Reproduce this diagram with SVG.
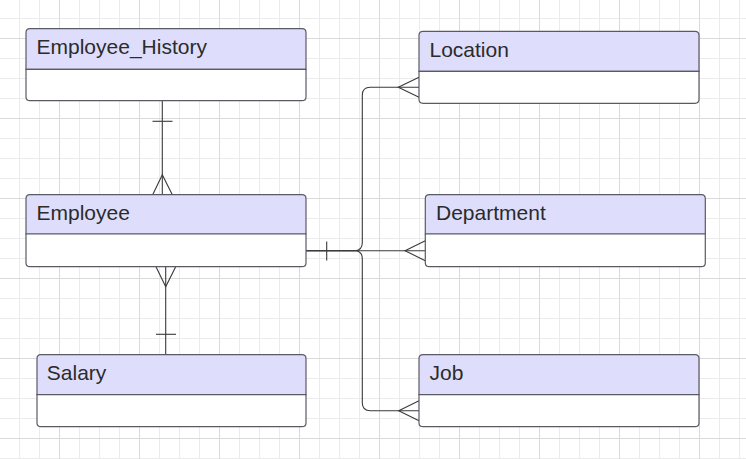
<svg xmlns="http://www.w3.org/2000/svg" width="746" height="459" viewBox="0 0 746 459">
  <style>
    .hdr { fill: #dedefc; stroke: #5a5a64; stroke-width: 1.2; }
    .body { fill: #ffffff; stroke: #5a5a64; stroke-width: 1.2; }
    .div { stroke: #5a5a64; stroke-width: 1.2; fill: none; }
    .lbl { font-family: "Liberation Sans", Arial, sans-serif; font-size: 21px; fill: #2b2b2b; }
    .conn { fill: none; stroke: #3a3a3a; stroke-width: 1.1; }
  </style>
  <defs>
    <pattern id="minor" patternUnits="userSpaceOnUse" x="19" y="18" width="20" height="20">
      <path d="M0.5 0 V20 M0 0.5 H20" stroke="#ebebeb" stroke-width="1" fill="none"/>
    </pattern>
    <pattern id="major" patternUnits="userSpaceOnUse" x="59" y="38" width="80" height="80">
      <path d="M0.5 0 V80 M0 0.5 H80" stroke="#dadada" stroke-width="1" fill="none"/>
    </pattern>
  </defs>
  <rect x="0" y="0" width="746" height="459" fill="#ffffff"/>
  <rect x="0" y="0" width="746" height="459" fill="url(#minor)"/>
  <rect x="0" y="0" width="746" height="459" fill="url(#major)"/>

  <g id="connectors">
    <!-- Employee_History - Employee -->
    <path class="conn" d="M162.3 100.7 V194.7"/>
    <path class="conn" d="M152.5 121.3 H172.5"/>
    <path class="conn" d="M152.7 194.7 L162.3 174.7 L172.3 194.7"/>
    <!-- Employee - Salary -->
    <path class="conn" d="M165.7 266.7 V354.7"/>
    <path class="conn" d="M156 334.3 H176"/>
    <path class="conn" d="M156 266.7 L165.7 286.7 L175.7 266.7"/>
    <!-- Employee - Location / Department / Job -->
    <path class="conn" d="M306 250.7 H354.3 Q362.3 250.7 362.3 242.7 V95.3 Q362.3 87.3 370.3 87.3 H419"/>
    <path class="conn" d="M306 250.7 H425.3"/>
    <path class="conn" d="M306 250.7 H354.3 Q362.3 250.7 362.3 258.7 V402.7 Q362.3 410.7 370.3 410.7 H419"/>
    <path class="conn" d="M326.7 241.4 V260.4"/>
    <path class="conn" d="M419 77.3 L398.3 87.3 L419 97.3"/>
    <path class="conn" d="M425.3 240.7 L405 250.7 L425.3 260.7"/>
    <path class="conn" d="M419 400.7 L398.7 410.7 L419 420.7"/>
  </g>

  <g id="employee_history">
    <path class="hdr" d="M26 69.3 V32.7 Q26 28.7 30 28.7 H302 Q306 28.7 306 32.7 V69.3 Z"/>
    <path class="body" d="M26 69.3 H306 V96.7 Q306 100.7 302 100.7 H30 Q26 100.7 26 96.7 Z"/>
    <text class="lbl" x="36.5" y="54.3">Employee_History</text>
  </g>

  <g id="location">
    <path class="hdr" d="M419 71.3 V35.3 Q419 31.3 423 31.3 H695 Q699 31.3 699 35.3 V71.3 Z"/>
    <path class="body" d="M419 71.3 H699 V99.3 Q699 103.3 695 103.3 H423 Q419 103.3 419 99.3 Z"/>
    <text class="lbl" x="429.5" y="56.9">Location</text>
  </g>

  <g id="employee">
    <path class="hdr" d="M26 234 V198.7 Q26 194.7 30 194.7 H302 Q306 194.7 306 198.7 V234 Z"/>
    <path class="body" d="M26 234 H306 V262.7 Q306 266.7 302 266.7 H30 Q26 266.7 26 262.7 Z"/>
    <text class="lbl" x="36.5" y="220.3">Employee</text>
  </g>

  <g id="department">
    <path class="hdr" d="M425.3 234 V198.7 Q425.3 194.7 429.3 194.7 H701.3 Q705.3 194.7 705.3 198.7 V234 Z"/>
    <path class="body" d="M425.3 234 H705.3 V262.7 Q705.3 266.7 701.3 266.7 H429.3 Q425.3 266.7 425.3 262.7 Z"/>
    <text class="lbl" x="436" y="220.3">Department</text>
  </g>

  <g id="salary">
    <path class="hdr" d="M37 394.7 V358.7 Q37 354.7 41 354.7 H302 Q306 354.7 306 358.7 V394.7 Z"/>
    <path class="body" d="M37 394.7 H306 V422.7 Q306 426.7 302 426.7 H41 Q37 426.7 37 422.7 Z"/>
    <text class="lbl" x="46.8" y="380.3">Salary</text>
  </g>

  <g id="job">
    <path class="hdr" d="M419 394.7 V358.7 Q419 354.7 423 354.7 H695 Q699 354.7 699 358.7 V394.7 Z"/>
    <path class="body" d="M419 394.7 H699 V422.7 Q699 426.7 695 426.7 H423 Q419 426.7 419 422.7 Z"/>
    <text class="lbl" x="429.5" y="380.3">Job</text>
  </g>
</svg>
